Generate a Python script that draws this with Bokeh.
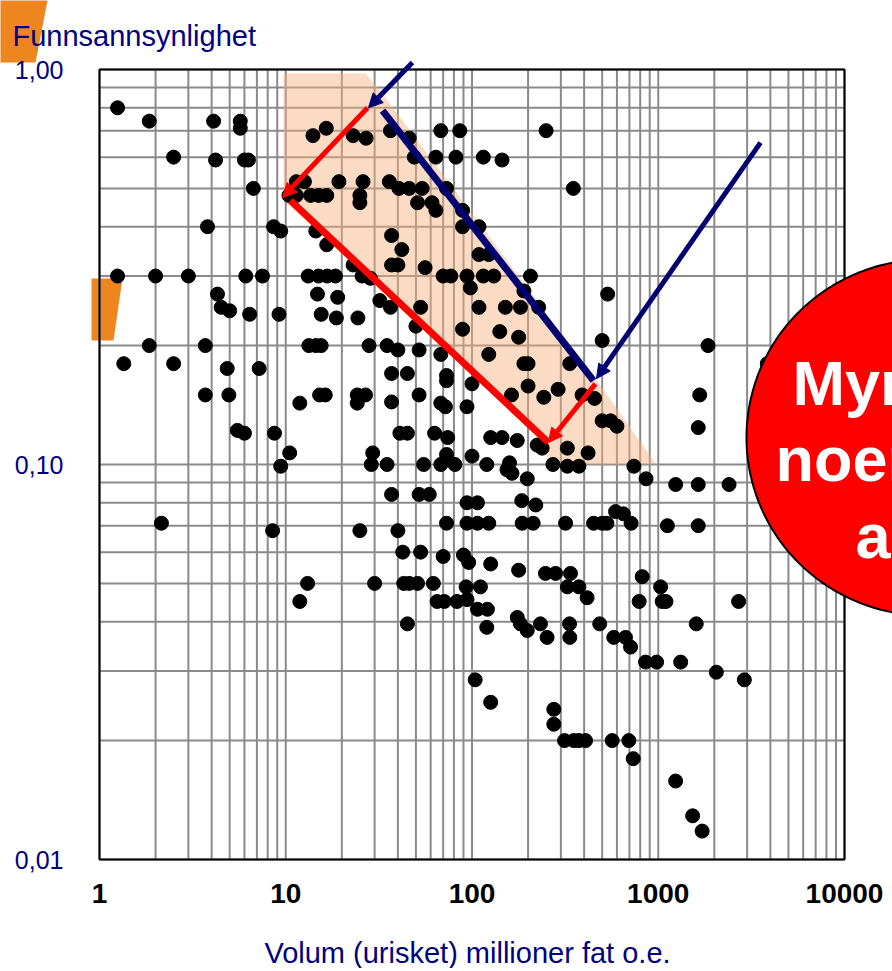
import numpy as np
from bokeh.plotting import figure
from bokeh.models import Arrow, NormalHead
from bokeh.core.properties import value
from bokeh.embed import file_html
from bokeh.resources import INLINE

# ---------------- data ----------------
volume = [
    1.25, 1.85, 4.1, 5.7, 5.7, 14, 16.5, 23, 27, 2.5, 4.2, 6.0, 6.3, 6.7, 3.8, 8.6, 9.4,
    11.4, 12.6, 10.4, 11.4, 13.6, 15, 16.6, 19.3, 26, 25, 25, 14.5, 16.6, 23, 25.7, 28.5,
    1.25, 2.0, 3.0, 6.1, 7.5, 13.2, 15, 16.7, 18.5, 4.3, 4.5, 5.0, 6.4, 9.2, 14.8, 19,
    15.5, 18.7, 24.4, 32, 1.85, 3.7, 13.3, 14.5, 15.5, 28, 1.35, 2.5, 4.85, 7.2, 3.7, 4.95,
    11.9, 15.2, 16.3, 24.2, 26.8, 24.2, 5.5, 6.0, 8.7, 10.5, 9.4, 29.3, 28.8, 2.15, 8.5, 25,
    13.1, 11.9, 30,
    36.5, 46, 68, 86, 250, 49, 64, 82, 115, 145, 350, 36, 40.5, 46, 54, 73, 51, 61, 64, 89,
    89, 109, 37, 42, 37, 40, 56, 109, 123, 70, 77, 94, 115, 131, 206, 98, 190, 535, 36.5,
    53, 109, 151, 182, 228, 50, 89, 141, 178, 500, 35, 40, 52, 68, 123, 190,
    200, 335, 37, 45, 73, 73, 100, 200, 290, 163, 243, 390, 455, 37, 52, 68, 72, 94, 500,
    555, 600, 41, 45, 63, 74, 126, 145, 175, 224, 238, 325, 420, 73, 100, 35, 55, 68, 81,
    120, 159, 154, 164, 198, 272, 325, 375, 740, 860, 37, 52, 59, 94, 107, 185, 220, 73,
    94, 107, 123, 186, 213, 318, 450, 500, 530, 590, 650, 715, 40, 42.5, 53, 70, 90, 96,
    126, 178, 248, 281, 338, 325, 375, 415, 820, 1030, 790, 1050, 1100, 43, 46, 51, 62, 93,
    111, 65, 71, 83, 94, 107, 121, 45, 120, 175, 182, 198, 233, 334, 485, 253, 335, 577,
    667, 710, 855, 980, 1320, 104, 126, 275, 275, 314, 352, 375, 407, 566, 695, 734, 1600,
    2050, 2900, 1240, 1530, 1720, 1850, 3850, 1670, 1640, 1240, 1640, 2400, 1120, 1640, 2700,
]
probability = [
    0.80, 0.74, 0.74, 0.74, 0.71, 0.68, 0.71, 0.68, 0.67, 0.60, 0.59, 0.59, 0.59, 0.50, 0.40, 0.40, 0.39,
    0.52, 0.52, 0.48, 0.48, 0.48, 0.48, 0.48, 0.52, 0.52, 0.48, 0.46, 0.39, 0.36, 0.32, 0.30, 0.296,
    0.30, 0.30, 0.30, 0.30, 0.30, 0.30, 0.30, 0.30, 0.30, 0.27, 0.25, 0.245, 0.24, 0.24, 0.27, 0.265,
    0.24, 0.235, 0.235, 0.26, 0.20, 0.20, 0.20, 0.20, 0.20, 0.20, 0.18, 0.18, 0.175, 0.175, 0.15, 0.15,
    0.143, 0.15, 0.15, 0.15, 0.15, 0.143, 0.122, 0.12, 0.12, 0.107, 0.099, 0.107, 0.10, 0.071, 0.068, 0.068,
    0.05, 0.045, 0.05,
    0.70, 0.67, 0.70, 0.70, 0.70, 0.60, 0.60, 0.60, 0.60, 0.59, 0.50, 0.52, 0.50, 0.50, 0.50, 0.50, 0.46, 0.46, 0.44, 0.44,
    0.40, 0.40, 0.38, 0.35, 0.32, 0.32, 0.315, 0.34, 0.34, 0.30, 0.30, 0.30, 0.30, 0.30, 0.30, 0.28, 0.275, 0.27, 0.25,
    0.25, 0.25, 0.25, 0.25, 0.25, 0.224, 0.22, 0.217, 0.21, 0.206, 0.20, 0.195, 0.195, 0.19, 0.19, 0.18,
    0.18, 0.18, 0.17, 0.17, 0.168, 0.163, 0.16, 0.158, 0.155, 0.15, 0.148, 0.15, 0.147, 0.144, 0.15, 0.143, 0.14, 0.14, 0.129,
    0.129, 0.125, 0.12, 0.12, 0.12, 0.117, 0.117, 0.117, 0.115, 0.112, 0.11, 0.11, 0.107, 0.106, 0.105, 0.10, 0.10, 0.10, 0.10,
    0.10, 0.101, 0.097, 0.095, 0.092, 0.10, 0.099, 0.099, 0.099, 0.092, 0.084, 0.084, 0.084, 0.08, 0.08, 0.081, 0.079, 0.071,
    0.071, 0.071, 0.071, 0.071, 0.071, 0.071, 0.071, 0.071, 0.071, 0.076, 0.075, 0.071, 0.068, 0.06, 0.06, 0.0585, 0.059, 0.0565,
    0.056, 0.054, 0.053, 0.053, 0.053, 0.049, 0.049, 0.046, 0.052, 0.049, 0.045, 0.045, 0.045, 0.05, 0.05, 0.05, 0.05, 0.049,
    0.049, 0.045, 0.045, 0.045, 0.0455, 0.043, 0.043, 0.0395, 0.0387, 0.041, 0.0395, 0.038, 0.0395, 0.0395, 0.0395, 0.0365, 0.0365, 0.0365,
    0.0365, 0.0345, 0.0316, 0.0316, 0.0316, 0.0285, 0.025, 0.024, 0.022, 0.02, 0.02, 0.02, 0.02, 0.02, 0.02, 0.018, 0.0395,
    0.0298, 0.0285, 0.0158, 0.0129, 0.0118, 0.20, 0.18, 0.15, 0.124, 0.089, 0.089, 0.089, 0.07, 0.07, 0.045,
]

x_tick_values = [1, 10, 100, 1000, 10000]
x_tick_labels = ["1", "10", "100", "1000", "10000"]
y_tick_values = [0.01, 0.1, 1]
y_tick_labels = ["0,01", "0,10", "1,00"]
x_minor_factors = [2, 3, 4, 5, 6, 7, 8, 9]

title_text = "Funnsannsynlighet"
x_label_text = "Volum (urisket) millioner fat o.e."
bubble_lines = ["Myr", "noen", "a"]

# annotation geometry, in data coordinates
shade_x = [9.72, 26.8, 31.5, 460, 979, 254, 254, 9.72]
shade_y = [0.977, 0.977, 0.895, 0.165, 0.1, 0.1, 0.1137, 0.466]
thick_x0 = [10.6, 33.1]
thick_y0 = [0.466, 0.787]
thick_x1 = [257, 449]
thick_y1 = [0.1137, 0.163]
thick_colors = ["#FF0000", "#000070"]
arrow_x0 = [27.5, 460, 47.9, 3540]
arrow_y0 = [0.80, 0.160, 1.042, 0.653]
arrow_x1 = [9.6, 257, 27.8, 466]
arrow_y1 = [0.474, 0.1137, 0.80, 0.165]
arrow_colors = ["#FF0000", "#FF0000", "#000070", "#000070"]

# ---------------- page geometry (pixels) ----------------
W, H = 892, 968
FL, FR, FT, FB = 99, 844, 69, 859          # chart box edges on the page
DX = (FR - FL) / 4.0                        # pixels per decade, x
DY = (FB - FT) / 2.0                        # pixels per decade, y


def x_at(px):
    return 10 ** ((np.asarray(px, dtype=float) - FL) / DX)


def y_at(py):
    return 10 ** (-(np.asarray(py, dtype=float) - FT) / DY)


NAVY = "#000080"
FONT = "Liberation Sans"
GRID = "#8a8a8a"

p = figure(width=W, height=H, x_axis_type="log", y_axis_type="log",
           x_range=(float(x_at(0)), float(x_at(W))),
           y_range=(float(y_at(H)), float(y_at(0))),
           x_axis_location=None, y_axis_location=None,
           output_backend="svg", toolbar_location=None,
           min_border=0, min_border_left=0, min_border_right=0,
           min_border_top=0, min_border_bottom=0)
p.grid.visible = False
p.outline_line_color = None
p.background_fill_color = "white"
p.border_fill_color = "white"

# orange decorations (slide background elements)
p.patch(list(x_at([-5, 48, 35, -5])), list(y_at([-5, -5, 62, 62])),
        fill_color="#EE8620", line_color=None)
p.patch(list(x_at([91, 122, 113, 91])), list(y_at([278, 278, 340, 340])),
        fill_color="#EE8620", line_color=None)

# grid
gx = sorted(set(x_tick_values + [f * v for v in x_tick_values[:-1] for f in x_minor_factors]))
gy = sorted(set(y_tick_values + [f * v for v in y_tick_values[:-1] for f in x_minor_factors]))
p.segment(x0=gx, y0=[y_tick_values[0]] * len(gx), x1=gx, y1=[y_tick_values[-1]] * len(gx),
          line_color=GRID, line_width=2)
p.segment(x0=[x_tick_values[0]] * len(gy), y0=gy, x1=[x_tick_values[-1]] * len(gy), y1=gy,
          line_color=GRID, line_width=2)

# shaded band
p.patch(shade_x, shade_y, fill_color="#F7B07A", fill_alpha=0.45, line_color=None)

# box
p.quad(left=[x_tick_values[0]], right=[x_tick_values[-1]],
       bottom=[y_tick_values[0]], top=[y_tick_values[-1]],
       fill_color=None, line_color="black", line_width=2)

# points
p.scatter(volume, probability, size=14, color="black")

# thick lines
p.segment(x0=thick_x0, y0=thick_y0, x1=thick_x1, y1=thick_y1,
          line_color=thick_colors, line_width=7)

# arrows
for xs, ys, xe, ye, c in zip(arrow_x0, arrow_y0, arrow_x1, arrow_y1, arrow_colors):
    p.add_layout(Arrow(end=NormalHead(size=14, fill_color=c, line_color=c, line_width=1),
                       x_start=xs, y_start=ys, x_end=xe, y_end=ye,
                       line_color=c, line_width=5))

# tick labels
p.text(x=x_tick_values, y=[float(y_at(893))] * len(x_tick_values), text=x_tick_labels,
       text_align="center", text_baseline="middle", text_color="black",
       text_font=value(FONT), text_font_size=value("28px"), text_font_style=value("bold"))
p.text(x=[float(x_at(63))] * len(y_tick_values), y=y_tick_values, text=y_tick_labels,
       text_align="right", text_baseline="middle", text_color=NAVY,
       text_font=value(FONT), text_font_size=value("25px"))

# title and axis label
p.text(x=[float(x_at(12))], y=[float(y_at(35))], text=[title_text],
       text_align="left", text_baseline="alphabetic", text_color=NAVY,
       text_font=value(FONT), text_font_size=value("29px"))
p.text(x=[float(x_at(467))], y=[float(y_at(952))], text=[x_label_text],
       text_align="center", text_baseline="middle", text_color=NAVY,
       text_font=value(FONT), text_font_size=value("29px"))

# red bubble (cut by the right edge, as in the original slide)
t = np.linspace(0, 2 * np.pi, 241)
ex = x_at(926 + 180 * np.cos(t))
ey = y_at(437 + 178 * np.sin(t))
p.patch(list(ex), list(ey), fill_color="#FF0000", line_color="black", line_width=2)
p.text(x=list(x_at([792, 775, 855])), y=list(y_at([382, 458, 535])), text=bubble_lines,
       text_align="left", text_baseline="alphabetic", text_color="white",
       text_font=value(FONT), text_font_size=value("63px"), text_font_style=value("bold"))

open("out.html", "w").write(file_html(p, INLINE))
